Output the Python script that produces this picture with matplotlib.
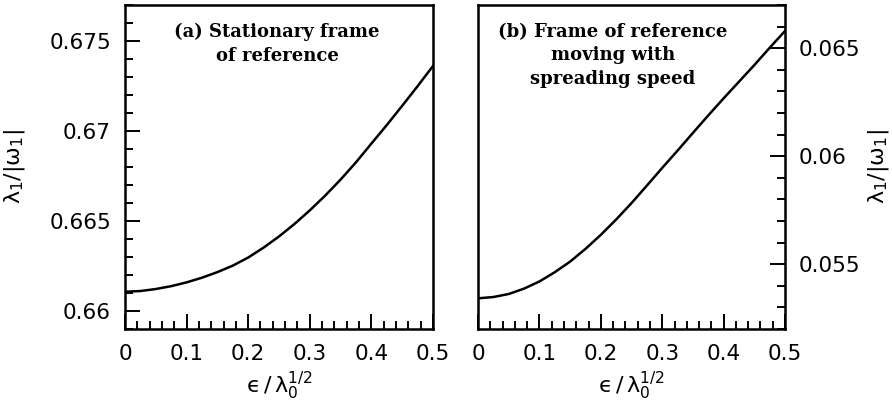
import numpy as np
import matplotlib
matplotlib.use('Agg')
import matplotlib.pyplot as plt
from matplotlib.ticker import MultipleLocator, FuncFormatter

# values
eps = [0.0, 0.025, 0.05, 0.075, 0.10, 0.125, 0.15, 0.175, 0.20, 0.225, 0.25,
       0.275, 0.30, 0.325, 0.35, 0.375, 0.40, 0.425, 0.45, 0.475, 0.50]
ratio_stationary = [0.66107, 0.66111, 0.66122, 0.66138, 0.66159, 0.66185,
                    0.66216, 0.66252, 0.66297, 0.66352, 0.66414, 0.66483,
                    0.66559, 0.66641, 0.66730, 0.66826, 0.66930, 0.67033,
                    0.67140, 0.67249, 0.67361]
ratio_moving = [0.05342, 0.05348, 0.05362, 0.05387, 0.05420, 0.05463,
                0.05512, 0.05571, 0.05636, 0.05707, 0.05783, 0.05864,
                0.05946, 0.06026, 0.06108, 0.06189, 0.06268, 0.06345,
                0.06422, 0.06502, 0.06580]

x_ticks = [0, 0.1, 0.2, 0.3, 0.4, 0.5]
x_ticklabels = ['0', '0.1', '0.2', '0.3', '0.4', '0.5']

plt.rcParams['font.family'] = ['DejaVu Sans']
plt.rcParams['mathtext.fontset'] = 'dejavusans'

fig = plt.figure(figsize=(8.92, 4.0), dpi=100)
ax1 = fig.add_axes([0.1401, 0.1775, 0.3453, 0.81])
ax2 = fig.add_axes([0.5359, 0.1775, 0.3442, 0.81])


def fmt(v, pos):
    s = '%.3f' % v
    return s.rstrip('0').rstrip('.')


for ax, ys, ylim, side in [(ax1, ratio_stationary, (0.659, 0.677), 'left'),
                           (ax2, ratio_moving, (0.052, 0.067), 'right')]:
    ax.plot(eps, ys, color='black', lw=1.8, solid_joinstyle='round')
    ax.set_xlim(0, 0.5)
    ax.set_ylim(*ylim)
    ax.set_xticks(x_ticks)
    ax.set_xticklabels(x_ticklabels)
    ax.xaxis.set_minor_locator(MultipleLocator(0.02))
    ax.yaxis.set_major_locator(MultipleLocator(0.005))
    ax.yaxis.set_minor_locator(MultipleLocator(0.001))
    ax.yaxis.set_major_formatter(FuncFormatter(fmt))
    for sp in ax.spines.values():
        sp.set_linewidth(1.8)
    ax.tick_params(which='both', direction='in', width=1.4, top=False,
                   left=(side == 'left'), right=(side == 'right'),
                   labelleft=(side == 'left'), labelright=(side == 'right'),
                   labelsize=15.5)
    ax.tick_params(which='major', length=10.8)
    ax.tick_params(which='minor', length=5.8)
    ax.tick_params(axis='x', pad=11)
    ax.tick_params(axis='y', pad=10)
    ax.set_xlabel(r'$\mathrm{ϵ\,/\,\lambda_0^{1/2}}$', fontsize=16)
    ax.xaxis.set_label_coords(0.5, -0.125)
    if side == 'right':
        ax.yaxis.set_label_position('right')
    ax.set_ylabel(r'$\mathrm{\lambda_1/|\omega_1|}$', fontsize=16)

ax1.yaxis.set_label_coords(-0.318, 0.5)
ax2.yaxis.set_label_coords(1.265, 0.5)

ax1.text(0.494, 0.945, '(a) Stationary frame\nof reference', transform=ax1.transAxes,
         ha='center', va='top', multialignment='center', fontsize=13,
         family='DejaVu Serif', weight='bold', linespacing=1.4)
ax2.text(0.44, 0.945, '(b) Frame of reference\nmoving with\nspreading speed',
         transform=ax2.transAxes, ha='center', va='top', multialignment='center',
         fontsize=13, family='DejaVu Serif', weight='bold', linespacing=1.4)

fig.savefig('out.png', dpi=100)
